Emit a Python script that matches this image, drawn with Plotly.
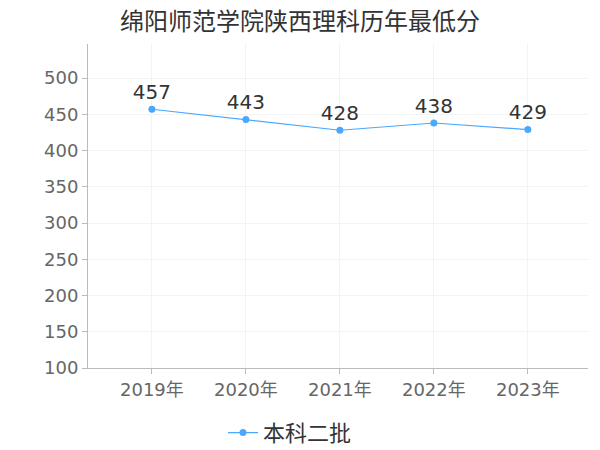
import plotly.graph_objects as go

years = ["2019年", "2020年", "2021年", "2022年", "2023年"]
scores = [457, 443, 428, 438, 429]
series_name = "本科二批"
title_text = "绵阳师范学院陕西理科历年最低分"

FONT = "DejaVu Sans, Noto Sans CJK SC, sans-serif"
CJK = "Noto Sans CJK SC, sans-serif"
fig = go.Figure()
fig.add_trace(go.Scatter(
    x=years, y=scores, name=series_name, mode="lines+markers+text",
    text=[str(v) for v in scores], textposition="top center",
    textfont=dict(size=20, color="#333333", family=FONT),
    line=dict(color="#4aa8ff", width=1.2),
    marker=dict(color="#4aa8ff", size=7),
    cliponaxis=False,
))
fig.update_layout(
    width=600, height=450,
    margin=dict(l=88, r=12, t=44, b=82, autoexpand=False),
    paper_bgcolor="white", plot_bgcolor="white",
    font=dict(family=FONT, color="#666666"),
    title=dict(text=title_text, x=0.5, xanchor="center", y=0.951, yanchor="middle",
               font=dict(size=24, color="#333333", family=CJK)),
    showlegend=True,
    legend=dict(orientation="h", x=0.27, xanchor="left", y=-0.135, yanchor="top",
                itemwidth=30,
                font=dict(size=22, color="#333333", family=CJK)),
    xaxis=dict(range=[-0.68, 4.64], showgrid=True, gridcolor="#f3f3f3",
               showline=True, linecolor="#bbbbbb", ticks="outside", ticklen=5,
               tickcolor="#bbbbbb", tickfont=dict(size=18, color="#666666"),
               zeroline=False, automargin=False),
    yaxis=dict(range=[100, 547], dtick=50, tick0=100, showgrid=True, gridcolor="#f3f3f3",
               showline=True, linecolor="#bbbbbb", ticks="outside", ticklen=5,
               tickcolor="#bbbbbb", tickfont=dict(size=18, color="#666666"),
               zeroline=False, automargin=False),
)
fig.write_html("out.html", config={"displayModeBar": False},
               post_script="document.body.style.margin='0';document.body.style.overflow='hidden';")
